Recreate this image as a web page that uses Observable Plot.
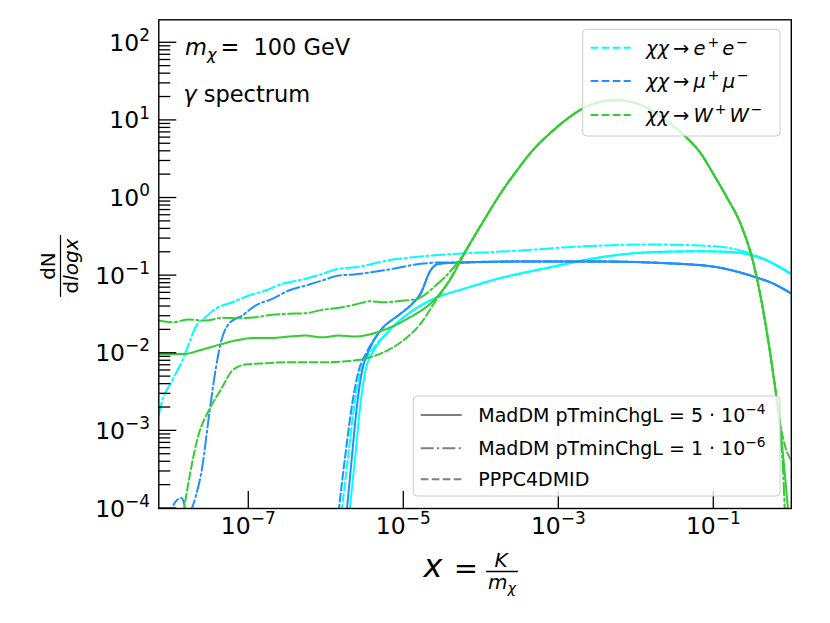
<!DOCTYPE html>
<html><head><meta charset="utf-8">
<script src="https://cdn.jsdelivr.net/npm/d3@7"></script>
<script src="https://cdn.jsdelivr.net/npm/@observablehq/plot@0.6"></script>
<style>body{margin:0;background:#fff} #chart svg{display:block}</style>
</head><body><div id="chart"></div>
<script>
// All values as log10 of x = K/m_chi and log10 of dN/dlogx
const channels = ["χχ→e+e−", "χχ→μ+μ−", "χχ→W+W−"];
const channelColors = ["#00ffff", "#1e90ff", "#32cd32"];
const styles = ["MadDM pTminChgL = 5·10^-4", "MadDM pTminChgL = 1·10^-6", "PPPC4DMID"];
const xTicks = [1e-7, 1e-5, 1e-3, 1e-1];
const yTicks = [1e-4, 1e-3, 1e-2, 1e-1, 1e0, 1e1, 1e2];

// e+e-  (pTminChgL = 1e-6, dash-dot)
const eeDashDotLx = [-8.161, -8.139, -7.988, -7.859, -7.774, -7.688, -7.559, -7.430, -7.214, -7.000, -6.785, -6.569, -6.268, -6.053, -5.839, -5.623, -5.214, -4.785, -4.355, -3.924, -3.494, -2.892, -1.817, -1.172, -0.742, -0.311, 0.0];
const eeDashDotLy = [-2.80, -2.696, -2.352, -2.094, -1.879, -1.665, -1.536, -1.428, -1.343, -1.256, -1.192, -1.106, -1.041, -0.977, -0.912, -0.892, -0.806, -0.754, -0.72, -0.698, -0.677, -0.634, -0.599, -0.612, -0.655, -0.805, -0.97];
// e+e-  (pTminChgL = 5e-4, solid)
const eeSolidLx = [-5.701, -5.623, -5.559, -5.494, -5.387, -5.214, -4.956, -4.785, -4.569, -4.226, -3.752, -3.107, -2.462, -1.817, -1.172, -0.742, -0.311, 0.0];
const eeSolidLy = [-4.05, -3.296, -2.652, -2.223, -1.965, -1.733, -1.501, -1.385, -1.278, -1.170, -1.031, -0.892, -0.763, -0.698, -0.686, -0.698, -0.805, -0.985];
// e+e-  (PPPC, dashed) low part, then same as solid
const eeDashedLx = [-5.804, -5.714, -5.636, -5.552, -5.43, -5.214, -4.956, -4.785, -4.569, -4.226, -3.752, -3.107, -2.462, -1.817, -1.172, -0.742, -0.311, 0.0];
const eeDashedLy = [-4.05, -3.296, -2.652, -2.223, -1.99, -1.733, -1.501, -1.385, -1.278, -1.170, -1.031, -0.892, -0.763, -0.698, -0.686, -0.698, -0.805, -0.985];

// mu+mu- (solid)
const muSolidLx = [-5.737, -5.666, -5.601, -5.537, -5.452, -5.301, -5.043, -4.875, -4.785, -4.656, -4.548, -4.268, -3.494, -2.462, -1.601, -0.956, -0.527, -0.226, 0.0];
const muSolidLy = [-4.05, -3.296, -2.652, -2.223, -1.965, -1.707, -1.492, -1.347, -1.235, -0.934, -0.848, -0.831, -0.818, -0.818, -0.840, -0.892, -0.999, -1.106, -1.23];
// mu+mu- (dashed)
const muDashedLx = [-5.843, -5.752, -5.666, -5.581, -5.48, -5.301, -5.043, -4.875, -4.785, -4.656, -4.548, -4.268, -3.494, -2.462, -1.601, -0.956, -0.527, -0.226, 0.0];
const muDashedLy = [-4.05, -3.296, -2.652, -2.223, -1.99, -1.707, -1.492, -1.347, -1.235, -0.934, -0.848, -0.831, -0.818, -0.818, -0.840, -0.892, -0.999, -1.106, -1.23];
const muDashedLowLx = [-7.98, -7.968, -7.924, -7.868, -7.826, -7.815];
const muDashedLowLy = [-4.1, -3.95, -3.89, -3.865, -3.98, -4.1];
// mu+mu- (dash-dot)
const muDashDotLx = [-7.752, -7.688, -7.601, -7.516, -7.430, -7.365, -7.258, -7.085, -6.914, -6.698, -6.484, -6.268, -6.053, -5.839, -5.645, -5.214, -4.785, -4.548, -4.268, -3.494, -2.462, -1.601, -0.956, -0.527, -0.226, 0.0];
const muDashDotLy = [-4.05, -3.856, -3.469, -2.825, -2.223, -1.879, -1.621, -1.514, -1.385, -1.299, -1.192, -1.128, -1.063, -0.999, -0.985, -0.925, -0.848, -0.831, -0.831, -0.818, -0.818, -0.840, -0.892, -0.999, -1.106, -1.23];

// W+W- (solid)
const wwSolidLx = [-8.161, -7.817, -7.645, -7.343, -7.172, -6.956, -6.698, -6.484, -6.268, -6.053, -5.839, -5.623, -5.301, -4.956, -4.613, -4.355, -4.226,
  -4.097, -3.968, -3.752, -3.537, -3.323, -3.107, -2.892, -2.677, -2.462, -2.246, -2.032, -1.817, -1.601, -1.343, -1.172, -1.0, -0.827, -0.656, -0.488, -0.333, -0.230,
  -0.139, -0.075, -0.036];
const wwSolidLy = [-2.008, -2.008, -1.965, -1.879, -1.836, -1.802, -1.802, -1.785, -1.772, -1.794, -1.772, -1.785, -1.716, -1.557, -1.321, -0.977, -0.719,
  -0.505, -0.290, 0.058, 0.36, 0.63, 0.84, 1.02, 1.16, 1.24, 1.26, 1.23, 1.14, 0.99, 0.77, 0.58, 0.30, 0.0, -0.329, -0.842, -1.62, -2.29,
  -3.0, -3.64, -4.09];
// W+W- (dash-dot)
const wwDashDotLx = [-8.161, -7.988, -7.774, -7.559, -7.343, -7.129, -6.914, -6.698, -6.484, -6.268, -6.053, -5.839, -5.623, -5.430, -5.258, -5.000, -4.827, -4.613, -4.355, -4.226,
  -4.097, -3.968, -3.752, -3.537, -3.323, -3.107, -2.892, -2.677, -2.462, -2.246, -2.032, -1.817, -1.601, -1.343, -1.172, -1.0, -0.827, -0.656, -0.488, -0.333, -0.230,
  -0.139, -0.113, -0.081];
const wwDashDotLy = [-1.579, -1.600, -1.566, -1.579, -1.544, -1.549, -1.536, -1.505, -1.492, -1.485, -1.441, -1.415, -1.372, -1.330, -1.343, -1.321, -1.299, -1.149, -0.892, -0.719,
  -0.505, -0.290, 0.058, 0.36, 0.63, 0.84, 1.02, 1.16, 1.24, 1.26, 1.23, 1.14, 0.99, 0.77, 0.58, 0.30, 0.0, -0.329, -0.842, -1.62, -2.29,
  -3.0, -3.38, -4.09];
// W+W- (dashed)
const wwDashedLx = [-7.843, -7.774, -7.645, -7.516, -7.343, -7.214, -7.043, -6.785, -6.484, -6.053, -5.645, -5.430, -5.214, -4.956, -4.785, -4.613, -4.441, -4.268,
  -4.097, -3.968, -3.752, -3.537, -3.323, -3.107, -2.892, -2.677, -2.462, -2.246, -2.032, -1.817, -1.601, -1.343, -1.172, -1.0, -0.827, -0.656, -0.488, -0.333, -0.230,
  -0.139, -0.075, 0.0];
const wwDashedLy = [-4.05, -3.641, -3.039, -2.738, -2.438, -2.223, -2.146, -2.129, -2.116, -2.116, -2.094, -2.051, -1.965, -1.794, -1.621, -1.363, -1.106, -0.806,
  -0.505, -0.290, 0.058, 0.36, 0.63, 0.84, 1.02, 1.16, 1.24, 1.26, 1.23, 1.14, 0.99, 0.77, 0.58, 0.30, 0.0, -0.329, -0.842, -1.62, -2.29,
  -2.93, -3.215, -3.38];

const FONT = "DejaVu Sans, sans-serif";
const LW = 2.0;
const dashStyles = {solid: null, dashdot: "13,3.3,2.1,3.3", dashed: "7.7,3.3"};

function pts(lx, ly) { return lx.map((v, i) => ({x: Math.pow(10, v), y: Math.pow(10, ly[i])})); }

const curves = [
  {lx: eeSolidLx, ly: eeSolidLy, c: 0, s: "solid"},
  {lx: eeDashDotLx, ly: eeDashDotLy, c: 0, s: "dashdot"},
  {lx: eeDashedLx, ly: eeDashedLy, c: 0, s: "dashed"},
  {lx: muSolidLx, ly: muSolidLy, c: 1, s: "solid"},
  {lx: muDashDotLx, ly: muDashDotLy, c: 1, s: "dashdot"},
  {lx: muDashedLx, ly: muDashedLy, c: 1, s: "dashed"},
  {lx: muDashedLowLx, ly: muDashedLowLy, c: 1, s: "dashed"},
  {lx: wwSolidLx, ly: wwSolidLy, c: 2, s: "solid"},
  {lx: wwDashDotLx, ly: wwDashDotLy, c: 2, s: "dashdot"},
  {lx: wwDashedLx, ly: wwDashedLy, c: 2, s: "dashed"}
];

const plot = Plot.plot({
  width: 830, height: 623,
  marginLeft: 158.3, marginRight: 39.2, marginTop: 19.3, marginBottom: 115,
  style: {background: "white", fontFamily: FONT},
  x: {type: "log", domain: [Math.pow(10, -8.161), 1], axis: null},
  y: {type: "log", domain: [1e-4, Math.pow(10, 2.296)], axis: null},
  marks: [
    ...curves.map(cv => Plot.line(pts(cv.lx, cv.ly), {
      x: "x", y: "y", stroke: channelColors[cv.c], strokeWidth: LW,
      strokeDasharray: dashStyles[cv.s], curve: "monotone-x", clip: true
    })),
    Plot.frame({stroke: "black", strokeWidth: 1.4})
  ]
});
document.getElementById("chart").appendChild(plot);

const sx = plot.scale("x"), sy = plot.scale("y");
const svg = d3.select(plot);
const X0 = 158.3, X1 = 790.8, Y0 = 19.3, Y1 = 508;

function rich(g, x, y, size, parts, anchor) {
  const t = g.append("text").attr("x", x).attr("y", y).attr("font-size", size)
    .attr("text-anchor", anchor || "start").attr("font-family", FONT).attr("fill", "black");
  let cur = 0;
  for (const p of parts) {
    const target = p.sup ? -size * 0.42 : p.sub ? size * 0.24 : 0;
    const s = t.append("tspan").text(p.t).attr("dy", target - cur);
    cur = target;
    if (p.sup || p.sub) s.attr("font-size", size * 0.72);
    if (p.it) s.attr("font-style", "italic");
    if (p.dx) s.attr("dx", p.dx);
  }
  return t;
}

// ticks
const tg = svg.append("g").attr("stroke", "black").attr("stroke-width", 1.3);
for (const v of xTicks) {
  const px = sx.apply(v);
  tg.append("line").attr("x1", px).attr("x2", px).attr("y1", Y1).attr("y2", Y1 - 17);
}
for (let e = -4; e <= 2; e++) {
  for (let k = 1; k <= 9; k++) {
    const v = k * Math.pow(10, e);
    if (v > sy.domain[1]) continue;
    const py = sy.apply(v);
    tg.append("line").attr("x1", X0).attr("x2", X0 + (k === 1 ? 18 : 12)).attr("y1", py).attr("y2", py);
  }
}
const lg = svg.append("g");
for (const v of xTicks) {
  const ex = Math.round(Math.log10(v));
  rich(lg, sx.apply(v), 533.5, 23.5, [{t: "10"}, {t: "−" + Math.abs(ex), sup: true}], "middle");
}
for (const v of yTicks) {
  const ex = Math.round(Math.log10(v));
  rich(lg, 150, sy.apply(v) + 8.5, 23.5, [{t: "10"}, {t: (ex < 0 ? "−" : "") + Math.abs(ex), sup: true}], "end");
}

// annotations
rich(lg, 185, 55, 22.5, [{t: "m", it: true}, {t: "χ", it: true, sub: true}, {t: "=", dx: 4}, {t: "100 GeV", dx: 14}]);
rich(lg, 183.3, 101.7, 22.5, [{t: "γ", it: true}, {t: " spectrum"}]);

// y label (rotated fraction)
const yl = svg.append("g").attr("font-family", FONT).attr("font-size", 20);
yl.append("text").attr("transform", "translate(55,266) rotate(-90)").attr("text-anchor", "middle").text("dN");
const t2 = yl.append("text").attr("transform", "translate(77.5,266) rotate(-90)").attr("text-anchor", "middle");
t2.append("tspan").text("d");
t2.append("tspan").attr("font-style", "italic").text("logx");
yl.append("line").attr("x1", 60.5).attr("x2", 60.5).attr("y1", 235).attr("y2", 297).attr("stroke", "black").attr("stroke-width", 1.2);

// x label
const xl = svg.append("g").attr("font-family", FONT);
xl.append("text").attr("x", 433).attr("y", 577).attr("font-size", 32).attr("font-style", "italic").text("x");
xl.append("text").attr("x", 466).attr("y", 577.5).attr("font-size", 29).attr("text-anchor", "middle").text("=");
xl.append("text").attr("x", 501).attr("y", 566.5).attr("font-size", 20).attr("font-style", "italic").attr("text-anchor", "middle").text("K");
xl.append("line").attr("x1", 486).attr("x2", 518).attr("y1", 571.5).attr("y2", 571.5).attr("stroke", "black").attr("stroke-width", 1.5);
rich(xl, 488, 588.5, 20, [{t: "m", it: true}, {t: "χ", it: true, sub: true}]);

// top legend (channels)
const L1 = svg.append("g");
L1.append("rect").attr("x", 582.7).attr("y", 29.3).attr("width", 197.3).attr("height", 106.7).attr("rx", 4)
  .attr("fill", "white").attr("fill-opacity", 0.8).attr("stroke", "#cccccc").attr("stroke-width", 1);
const chanParts = [
  [{t: "χχ", it: true}, {t: "→", dx: 4}, {t: "e", it: true, dx: 4}, {t: "+", sup: true, dx: 2}, {t: "e", it: true, dx: 3}, {t: "−", sup: true, dx: 2}],
  [{t: "χχ", it: true}, {t: "→", dx: 4}, {t: "μ", it: true, dx: 4}, {t: "+", sup: true, dx: 2}, {t: "μ", it: true, dx: 3}, {t: "−", sup: true, dx: 2}],
  [{t: "χχ", it: true}, {t: "→", dx: 4}, {t: "W", it: true, dx: 4}, {t: "+", sup: true, dx: 2}, {t: "W", it: true, dx: 3}, {t: "−", sup: true, dx: 2}]
];
[47.7, 81, 115].forEach((y, i) => {
  L1.append("line").attr("x1", 590.7).attr("x2", 630.7).attr("y1", y).attr("y2", y)
    .attr("stroke", channelColors[i]).attr("stroke-width", LW).attr("stroke-dasharray", dashStyles.dashed);
  rich(L1, 646, y + 7.3, 19.5, chanParts[i]);
});

// bottom legend (styles)
const L2 = svg.append("g");
L2.append("rect").attr("x", 413.3).attr("y", 396).attr("width", 366.7).attr("height", 100).attr("rx", 4)
  .attr("fill", "white").attr("fill-opacity", 0.8).attr("stroke", "#cccccc").attr("stroke-width", 1);
const styleKeys = ["solid", "dashdot", "dashed"];
const styleParts = [
  [{t: "MadDM pTminChgL = 5 · 10"}, {t: "−4", sup: true}],
  [{t: "MadDM pTminChgL = 1 · 10"}, {t: "−6", sup: true}],
  [{t: "PPPC4DMID"}]
];
[415, 448.3, 479.3].forEach((y, i) => {
  L2.append("line").attr("x1", 420.7).attr("x2", 461.7).attr("y1", y).attr("y2", y)
    .attr("stroke", "#808080").attr("stroke-width", LW).attr("stroke-dasharray", dashStyles[styleKeys[i]]);
  rich(L2, 478.3, y + 6.7, 19, styleParts[i]);
});
</script></body></html>
